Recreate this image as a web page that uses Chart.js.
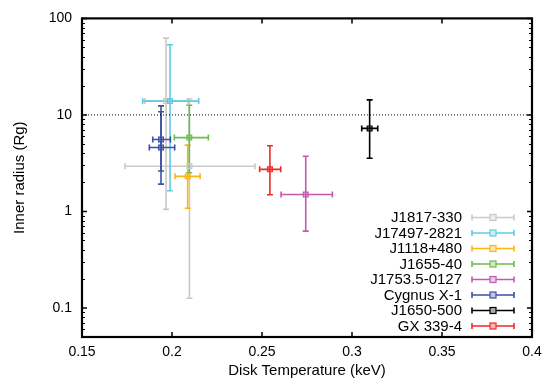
<!DOCTYPE html>
<html>
<head>
<meta charset="utf-8">
<script src="https://cdn.jsdelivr.net/npm/chart.js@4"></script>
<style>
  html, body { margin: 0; padding: 0; background: #fff; }
  #wrap { width: 552px; height: 385px; position: relative; }
</style>
</head>
<body>
<div id="wrap"><canvas id="c" width="552" height="385"></canvas></div>
<script>
// ---- data ----
const sources = ["J1817-330", "J17497-2821", "J1118+480", "J1655-40", "J1753.5-0127", "Cygnus X-1", "J1650-500", "GX 339-4"];
const sourceColors = ["#c9c9c9", "#5fcbe3", "#fdb417", "#6dbd4c", "#c25aae", "#3b51a3", "#000000", "#ee2a2a"];
const pointSource = [0, 0, 1, 2, 3, 4, 5, 5, 6, 7];
const temperature = [0.1967, 0.2097, 0.1989, 0.2087, 0.2096, 0.2743, 0.1939, 0.1939, 0.3098, 0.2544];
const temperatureLow = [0.1850, 0.1739, 0.1837, 0.2017, 0.2013, 0.2606, 0.1893, 0.1874, 0.3054, 0.2487];
const temperatureHigh = [0.2089, 0.2461, 0.2148, 0.2156, 0.2202, 0.2891, 0.1991, 0.2015, 0.3143, 0.2604];
const radius = [13.9, 2.94, 13.9, 2.31, 5.82, 1.5, 5.56, 4.6, 7.25, 2.73];
const radiusLow = [1.05, 0.126, 1.64, 1.08, 2.52, 0.625, 2.62, 1.92, 3.56, 1.49];
const radiusHigh = [62.5, 14.6, 53.4, 4.86, 12.6, 3.73, 10.8, 12.4, 14.3, 4.8];
const xTicks = [0.15, 0.2, 0.25, 0.3, 0.35, 0.4];
const yTicks = [0.1, 1, 10, 100];
const referenceRadius = 10;

// ---- build datasets ----
const datasets = sources.map((name, s) => {
  const pts = [];
  pointSource.forEach((src, i) => {
    if (src === s) pts.push({
      x: temperature[i], y: radius[i],
      xMin: temperatureLow[i], xMax: temperatureHigh[i],
      yMin: radiusLow[i], yMax: radiusHigh[i]
    });
  });
  return {
    label: name,
    data: pts,
    showLine: false,
    borderColor: sourceColors[s],
    backgroundColor: sourceColors[s] + "55",
    pointStyle: 'rect',
    pointRadius: 3.4,
    pointBorderWidth: 1.2,
    order: sources.length - s
  };
});
datasets.push({
  label: "_ref",
  data: [{x: xTicks[0], y: referenceRadius}, {x: xTicks[xTicks.length - 1], y: referenceRadius}],
  showLine: true,
  borderColor: "#000",
  borderWidth: 1,
  borderDash: [1, 2],
  pointRadius: 0,
  order: 100
});

const errorBars = {
  id: 'errorBars',
  beforeDatasetsDraw(chart) {
    const ctx = chart.ctx, xs = chart.scales.x, ys = chart.scales.y;
    const cap = 3;
    ctx.save();
    ctx.lineWidth = 1.6;
    chart.data.datasets.forEach((ds) => {
      if (ds.label === "_ref") return;
      ctx.strokeStyle = ds.borderColor;
      ds.data.forEach(p => {
        const px = xs.getPixelForValue(p.x), py = ys.getPixelForValue(p.y);
        const x1 = xs.getPixelForValue(p.xMin), x2 = xs.getPixelForValue(p.xMax);
        const y1 = ys.getPixelForValue(p.yMin), y2 = ys.getPixelForValue(p.yMax);
        ctx.beginPath();
        ctx.moveTo(x1, py); ctx.lineTo(x2, py);
        ctx.moveTo(x1, py - cap); ctx.lineTo(x1, py + cap);
        ctx.moveTo(x2, py - cap); ctx.lineTo(x2, py + cap);
        ctx.moveTo(px, y1); ctx.lineTo(px, y2);
        ctx.moveTo(px - cap, y1); ctx.lineTo(px + cap, y1);
        ctx.moveTo(px - cap, y2); ctx.lineTo(px + cap, y2);
        ctx.stroke();
      });
    });
    ctx.restore();
  }
};

const frame = {
  id: 'frame',
  afterDraw(chart) {
    const ctx = chart.ctx, a = chart.chartArea, xs = chart.scales.x, ys = chart.scales.y;
    ctx.save();
    ctx.strokeStyle = "#000";
    // ticks
    ctx.lineWidth = 1.5;
    ctx.beginPath();
    xTicks.forEach(v => {
      const px = xs.getPixelForValue(v);
      ctx.moveTo(px, a.bottom); ctx.lineTo(px, a.bottom - 5);
      ctx.moveTo(px, a.top); ctx.lineTo(px, a.top + 5);
    });
    yTicks.forEach(v => {
      const py = ys.getPixelForValue(v);
      ctx.moveTo(a.left, py); ctx.lineTo(a.left + 5, py);
      ctx.moveTo(a.right, py); ctx.lineTo(a.right - 5, py);
    });
    ctx.stroke();
    ctx.lineWidth = 1;
    ctx.beginPath();
    for (let d = 0.01; d < 100; d *= 10) {
      for (let m = 2; m <= 9; m++) {
        const v = d * m;
        if (v < ys.min || v > ys.max) continue;
        const py = Math.round(ys.getPixelForValue(v)) + 0.5;
        ctx.moveTo(a.left, py); ctx.lineTo(a.left + 3, py);
        ctx.moveTo(a.right, py); ctx.lineTo(a.right - 3, py);
      }
    }
    ctx.stroke();
    // border
    ctx.lineWidth = 2.2;
    ctx.strokeRect(a.left, a.top, a.right - a.left, a.bottom - a.top);

    // legend
    ctx.font = "15px 'Liberation Sans', Arial, sans-serif";
    ctx.textAlign = "right";
    ctx.textBaseline = "middle";
    const textRight = 462, lx1 = 472, lx2 = 514, lm = 493;
    sources.forEach((name, s) => {
      const y = 217.5 + s * 15.5;
      ctx.fillStyle = "#000";
      ctx.fillText(name, textRight, y + 0.5);
      const col = sourceColors[s];
      ctx.strokeStyle = col;
      ctx.lineWidth = 1.6;
      ctx.beginPath();
      ctx.moveTo(lx1, y); ctx.lineTo(lx2, y);
      ctx.moveTo(lx1, y - 3); ctx.lineTo(lx1, y + 3);
      ctx.moveTo(lx2, y - 3); ctx.lineTo(lx2, y + 3);
      ctx.stroke();
      ctx.fillStyle = "#fff";
      ctx.fillRect(lm - 3, y - 3, 6, 6);
      ctx.fillStyle = col + "55";
      ctx.fillRect(lm - 3, y - 3, 6, 6);
      ctx.lineWidth = 1.2;
      ctx.strokeRect(lm - 3, y - 3, 6, 6);
    });
    ctx.restore();
  }
};

Chart.defaults.font.family = "'Liberation Sans', Arial, sans-serif";
Chart.defaults.font.size = 14;
Chart.defaults.color = "#000";

new Chart(document.getElementById('c'), {
  type: 'scatter',
  data: { datasets },
  options: {
    responsive: false,
    animation: false,
    layout: { padding: { left: 0, top: 14, right: 20, bottom: 0 } },
    plugins: { legend: { display: false }, tooltip: { enabled: false } },
    scales: {
      x: {
        type: 'linear',
        min: xTicks[0], max: xTicks[xTicks.length - 1],
        afterBuildTicks: (sc) => { sc.ticks = xTicks.map(v => ({ value: v })); },
        afterFit: (sc) => { sc.height = 48; },
        ticks: { padding: 7, callback: (v) => String(+v.toFixed(2)), maxRotation: 0, autoSkip: false },
        grid: { display: false, drawTicks: false },
        border: { display: false },
        title: { display: true, text: "Disk Temperature (keV)", font: { size: 15 }, padding: { top: 0, bottom: 5 } }
      },
      y: {
        type: 'logarithmic',
        min: 0.05, max: 100,
        afterBuildTicks: (sc) => { sc.ticks = yTicks.map(v => ({ value: v })); },
        afterFit: (sc) => { sc.width = 82; },
        ticks: { padding: 10, callback: (v) => String(v), autoSkip: false },
        grid: { display: false, drawTicks: false },
        border: { display: false },
        title: { display: true, text: "Inner radius (Rg)", font: { size: 15 }, padding: { top: 11, bottom: 0 } }
      }
    }
  },
  plugins: [errorBars, frame]
});
</script>
</body>
</html>
